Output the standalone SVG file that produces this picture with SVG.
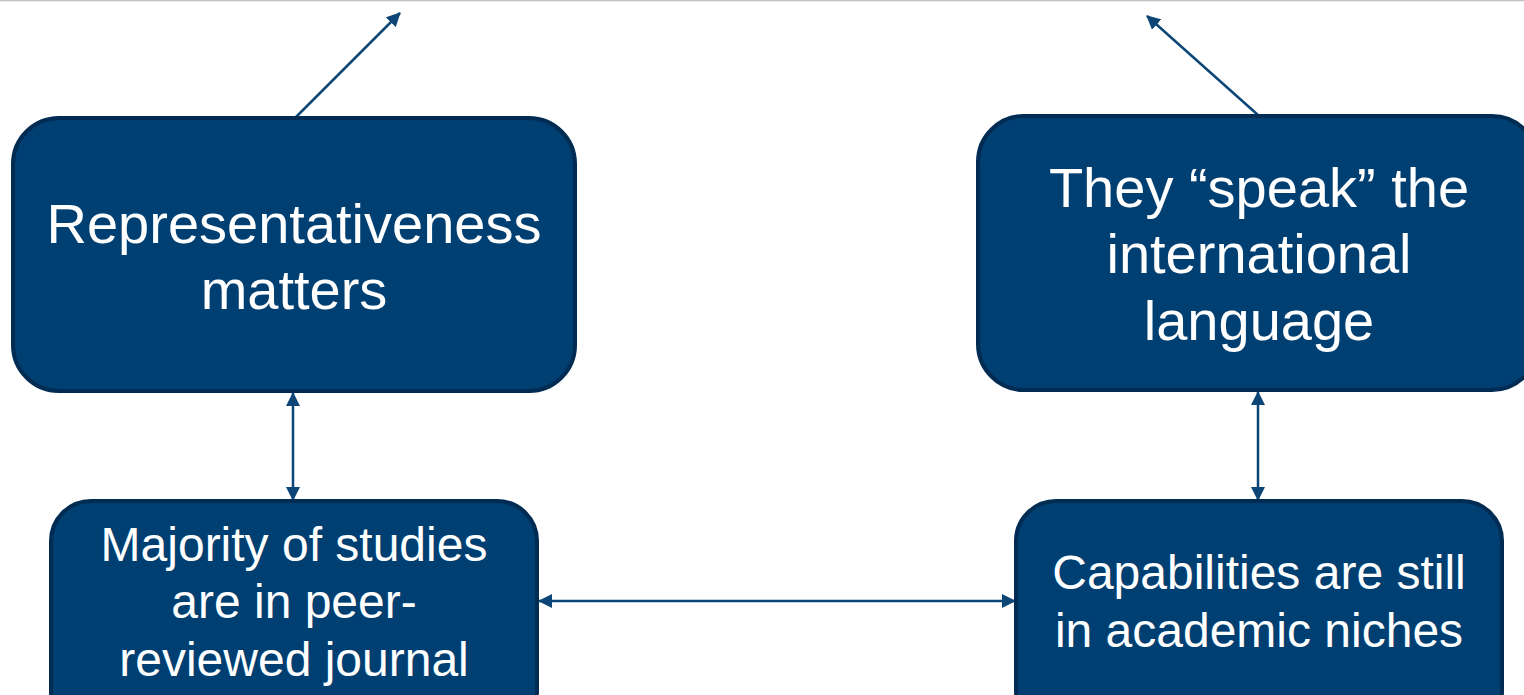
<svg xmlns="http://www.w3.org/2000/svg" width="1524" height="695" viewBox="0 0 1524 695">
  <style>
    .box { fill: #003f72; stroke: #002b52; stroke-width: 4; }
    .lbl { fill: #ffffff; font-family: "Liberation Sans", Arial, sans-serif; text-anchor: middle; }
    .big { font-size: 56px; }
    .small { font-size: 48px; }
    .link { stroke: #0b4677; stroke-width: 2.5; fill: none; }
  </style>
  <defs>
    <marker id="head" viewBox="0 0 14 14" refX="13" refY="7" markerWidth="14" markerHeight="14" markerUnits="userSpaceOnUse" orient="auto-start-reverse">
      <path d="M0,0 L14,7 L0,14 Z" fill="#0b4677"/>
    </marker>
  </defs>
  <rect width="1524" height="695" fill="#ffffff"/>
  <line x1="0" y1="0.5" x2="1524" y2="0.5" stroke="#bfbfbf" stroke-width="1.5"/>

  <g id="connectors">
    <line class="link" x1="296" y1="117" x2="400" y2="13" marker-end="url(#head)"/>
    <line class="link" x1="1258" y1="115" x2="1147" y2="16" marker-end="url(#head)"/>
    <line class="link" x1="293" y1="393" x2="293" y2="500" marker-start="url(#head)" marker-end="url(#head)"/>
    <line class="link" x1="1258" y1="392" x2="1258" y2="500" marker-start="url(#head)" marker-end="url(#head)"/>
    <line class="link" x1="539" y1="601" x2="1015" y2="601" marker-start="url(#head)" marker-end="url(#head)"/>
  </g>

  <g id="representativeness">
    <rect class="box" x="13" y="118" width="562" height="273" rx="46"/>
    <text class="lbl big" x="294" y="243">Representativeness</text>
    <text class="lbl big" x="294" y="309">matters</text>
  </g>

  <g id="international-language">
    <rect class="box" x="978" y="116" width="560" height="274" rx="46"/>
    <text class="lbl big" x="1259" y="207">They “speak” the</text>
    <text class="lbl big" x="1259" y="273">international</text>
    <text class="lbl big" x="1259" y="340">language</text>
  </g>

  <g id="peer-reviewed">
    <rect class="box" x="51" y="501" width="486" height="230" rx="40"/>
    <text class="lbl small" x="294" y="561">Majority of studies</text>
    <text class="lbl small" x="294" y="618">are in peer-</text>
    <text class="lbl small" x="294" y="676">reviewed journal</text>
  </g>

  <g id="academic-niches">
    <rect class="box" x="1016" y="501" width="486" height="230" rx="40"/>
    <text class="lbl small" x="1259" y="589">Capabilities are still</text>
    <text class="lbl small" x="1259" y="647">in academic niches</text>
  </g>
</svg>
